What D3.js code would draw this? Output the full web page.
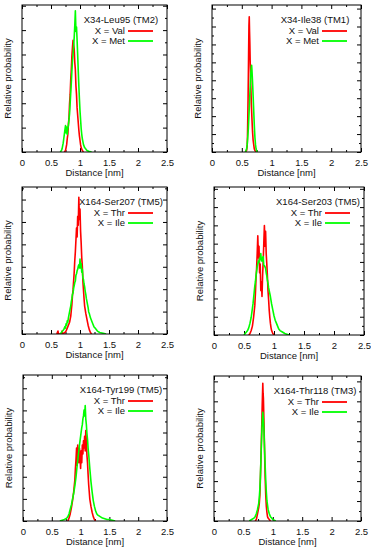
<!DOCTYPE html>
<html><head><meta charset="utf-8">
<script src="https://cdn.jsdelivr.net/npm/d3@7"></script>
<style>
body{margin:0;background:#fff}
svg{display:block}
text{font-family:"Liberation Sans",Arial,sans-serif;fill:#111}
</style>
</head><body>
<svg id="c" width="371" height="550"></svg>
<script>
// ---------- data ----------
const xTickValues = [0, 0.5, 1, 1.5, 2, 2.5];
const xTickLabels = ["0", "0.5", "1", "1.5", "2", "2.5"];
const xMinorTicks = [0.25, 0.75, 1.25, 1.75, 2.25];
const panelTitles = ["X34-Leu95 (TM2)", "X34-Ile38 (TM1)", "X164-Ser207 (TM5)", "X164-Ser203 (TM5)", "X164-Tyr199 (TM5)", "X164-Thr118 (TM3)"];
const legendRed = ["X = Val", "X = Val", "X = Thr", "X = Thr", "X = Thr", "X = Thr"];
const legendGreen = ["X = Met", "X = Met", "X = Ile", "X = Ile", "X = Ile", "X = Ile"];
const yTickIntervals = [6.03, 8.2, 6.56, 8.1, 6.6, 7.27];

const leu95Val = [[0.73,0],[0.75,0.01],[0.76,0.03],[0.77,0.05],[0.78,0.09],[0.79,0.12],[0.80,0.19],[0.81,0.23],[0.82,0.33],[0.83,0.39],[0.84,0.49],[0.85,0.56],[0.86,0.65],[0.87,0.71],[0.88,0.76],[0.89,0.73],[0.90,0.70],[0.91,0.61],[0.92,0.56],[0.93,0.45],[0.94,0.39],[0.95,0.30],[0.96,0.25],[0.97,0.20],[0.98,0.15],[0.99,0.11],[1.00,0.08],[1.01,0.05],[1.02,0.03],[1.04,0.01],[1.06,0]];
const leu95Met = [[0.66,0],[0.68,0.01],[0.69,0.02],[0.70,0.04],[0.71,0.06],[0.72,0.09],[0.73,0.12],[0.74,0.15],[0.75,0.18],[0.76,0.13],[0.77,0.17],[0.78,0.12],[0.79,0.16],[0.80,0.18],[0.81,0.22],[0.82,0.26],[0.83,0.33],[0.84,0.40],[0.85,0.47],[0.86,0.55],[0.87,0.62],[0.88,0.66],[0.89,0.72],[0.90,0.78],[0.91,0.86],[0.92,0.96],[0.93,0.82],[0.94,0.85],[0.95,0.76],[0.96,0.66],[0.97,0.55],[0.98,0.45],[0.99,0.36],[1.00,0.28],[1.01,0.22],[1.02,0.16],[1.03,0.12],[1.04,0.09],[1.05,0.07],[1.06,0.05],[1.07,0.04],[1.08,0.03],[1.09,0.025],[1.10,0.02],[1.12,0.01],[1.15,0.005],[1.20,0]];

const ile38Val = [[0.56,0],[0.58,0.01],[0.59,0.04],[0.595,0.10],[0.60,0.22],[0.605,0.35],[0.61,0.52],[0.615,0.70],[0.62,0.86],[0.625,0.92],[0.63,0.82],[0.635,0.74],[0.64,0.63],[0.645,0.55],[0.65,0.46],[0.655,0.40],[0.66,0.33],[0.67,0.23],[0.68,0.14],[0.69,0.08],[0.70,0.05],[0.71,0.02],[0.72,0.01],[0.74,0]];
const ile38Met = [[0.56,0],[0.57,0.01],[0.58,0.02],[0.59,0.05],[0.60,0.10],[0.61,0.16],[0.62,0.25],[0.63,0.34],[0.64,0.44],[0.65,0.53],[0.66,0.58],[0.665,0.59],[0.67,0.56],[0.68,0.48],[0.69,0.38],[0.70,0.28],[0.71,0.18],[0.72,0.10],[0.73,0.05],[0.74,0.02],[0.75,0.005],[0.76,0]];

const ser207Thr = [[0.60,0],[0.62,0.02],[0.63,0],[0.68,0],[0.69,0.02],[0.70,0],[0.74,0.01],[0.76,0.02],[0.78,0.04],[0.80,0.06],[0.82,0.08],[0.83,0.10],[0.84,0.12],[0.85,0.16],[0.86,0.20],[0.87,0.26],[0.88,0.30],[0.89,0.36],[0.90,0.42],[0.91,0.50],[0.92,0.56],[0.93,0.64],[0.94,0.72],[0.95,0.66],[0.96,0.80],[0.97,0.74],[0.98,0.93],[0.99,0.78],[1.00,0.85],[1.01,0.70],[1.02,0.62],[1.03,0.52],[1.04,0.46],[1.05,0.36],[1.06,0.30],[1.07,0.24],[1.08,0.19],[1.10,0.14],[1.12,0.10],[1.14,0.06],[1.16,0.03],[1.18,0.01],[1.20,0]];
const ser207Ile = [[0.66,0],[0.68,0.01],[0.70,0.02],[0.72,0.03],[0.74,0.05],[0.75,0.04],[0.76,0.07],[0.77,0.06],[0.78,0.09],[0.79,0.08],[0.80,0.11],[0.81,0.13],[0.82,0.15],[0.83,0.17],[0.84,0.19],[0.85,0.22],[0.86,0.24],[0.87,0.27],[0.88,0.28],[0.89,0.31],[0.90,0.33],[0.91,0.35],[0.92,0.36],[0.93,0.40],[0.94,0.41],[0.95,0.43],[0.96,0.44],[0.97,0.46],[0.98,0.47],[0.99,0.45],[1.00,0.51],[1.01,0.45],[1.02,0.48],[1.03,0.42],[1.04,0.44],[1.05,0.38],[1.06,0.37],[1.07,0.34],[1.08,0.32],[1.09,0.29],[1.10,0.27],[1.11,0.24],[1.12,0.22],[1.13,0.20],[1.14,0.18],[1.15,0.15],[1.16,0.14],[1.18,0.11],[1.20,0.09],[1.22,0.07],[1.24,0.05],[1.26,0.04],[1.28,0.03],[1.30,0.02],[1.34,0.01],[1.40,0.005],[1.45,0]];

const ser203Thr = [[0.58,0],[0.60,0.01],[0.62,0.03],[0.64,0.06],[0.66,0.12],[0.67,0.16],[0.68,0.20],[0.69,0.28],[0.70,0.38],[0.71,0.45],[0.72,0.55],[0.73,0.67],[0.74,0.52],[0.75,0.60],[0.76,0.42],[0.77,0.48],[0.78,0.30],[0.79,0.36],[0.80,0.26],[0.81,0.40],[0.82,0.50],[0.83,0.62],[0.84,0.74],[0.85,0.60],[0.86,0.70],[0.87,0.55],[0.88,0.48],[0.89,0.40],[0.90,0.30],[0.91,0.24],[0.92,0.17],[0.93,0.12],[0.94,0.08],[0.95,0.05],[0.96,0.03],[0.98,0.01],[1.00,0]];
const ser203Ile = [[0.50,0],[0.52,0.01],[0.54,0.02],[0.56,0.03],[0.58,0.05],[0.60,0.08],[0.62,0.12],[0.64,0.18],[0.65,0.21],[0.66,0.25],[0.67,0.29],[0.68,0.33],[0.69,0.36],[0.70,0.40],[0.71,0.43],[0.72,0.46],[0.73,0.48],[0.74,0.50],[0.75,0.49],[0.76,0.52],[0.77,0.51],[0.78,0.55],[0.79,0.50],[0.80,0.50],[0.81,0.52],[0.82,0.53],[0.83,0.47],[0.84,0.47],[0.85,0.46],[0.86,0.45],[0.87,0.42],[0.88,0.40],[0.89,0.37],[0.90,0.35],[0.91,0.32],[0.92,0.30],[0.94,0.26],[0.96,0.21],[0.98,0.17],[1.00,0.13],[1.02,0.10],[1.04,0.08],[1.06,0.06],[1.08,0.04],[1.10,0.03],[1.14,0.02],[1.18,0.01],[1.25,0]];

const tyr199Thr = [[0.78,0],[0.80,0.02],[0.82,0.05],[0.84,0.09],[0.86,0.14],[0.88,0.20],[0.90,0.28],[0.91,0.36],[0.92,0.42],[0.93,0.50],[0.94,0.38],[0.95,0.52],[0.96,0.45],[0.97,0.40],[0.98,0.50],[0.99,0.44],[1.00,0.36],[1.01,0.48],[1.02,0.40],[1.03,0.52],[1.04,0.46],[1.05,0.55],[1.06,0.50],[1.07,0.58],[1.08,0.48],[1.09,0.62],[1.10,0.55],[1.11,0.45],[1.12,0.40],[1.13,0.32],[1.14,0.25],[1.15,0.20],[1.16,0.15],[1.18,0.10],[1.20,0.06],[1.22,0.03],[1.24,0.01],[1.26,0]];
const tyr199Ile = [[0.64,0],[0.68,0.005],[0.72,0.01],[0.76,0.02],[0.78,0.03],[0.80,0.05],[0.82,0.08],[0.84,0.11],[0.86,0.15],[0.88,0.19],[0.90,0.24],[0.92,0.30],[0.94,0.38],[0.96,0.45],[0.98,0.52],[1.00,0.58],[1.01,0.61],[1.02,0.64],[1.03,0.66],[1.04,0.70],[1.05,0.72],[1.06,0.76],[1.07,0.72],[1.08,0.79],[1.09,0.70],[1.10,0.66],[1.11,0.60],[1.12,0.56],[1.13,0.50],[1.14,0.46],[1.16,0.36],[1.18,0.27],[1.20,0.20],[1.22,0.14],[1.24,0.10],[1.26,0.07],[1.28,0.05],[1.30,0.04],[1.34,0.03],[1.38,0.02],[1.42,0.015],[1.46,0.01],[1.50,0.01],[1.55,0.005],[1.60,0]];

const thr118Thr = [[0.70,0],[0.72,0.01],[0.73,0.03],[0.74,0.05],[0.75,0.07],[0.76,0.09],[0.77,0.12],[0.78,0.18],[0.79,0.30],[0.80,0.45],[0.81,0.62],[0.82,0.80],[0.83,0.95],[0.835,0.88],[0.84,0.85],[0.85,0.68],[0.86,0.48],[0.87,0.30],[0.88,0.18],[0.89,0.10],[0.90,0.06],[0.91,0.03],[0.92,0.02],[0.94,0.01],[0.96,0]];
const thr118Ile = [[0.60,0],[0.64,0.01],[0.68,0.02],[0.70,0.03],[0.72,0.05],[0.74,0.08],[0.76,0.12],[0.77,0.16],[0.78,0.22],[0.79,0.32],[0.80,0.45],[0.81,0.58],[0.82,0.68],[0.83,0.75],[0.84,0.70],[0.85,0.62],[0.86,0.50],[0.87,0.38],[0.88,0.28],[0.89,0.20],[0.90,0.14],[0.92,0.08],[0.94,0.05],[0.96,0.03],[0.98,0.02],[1.00,0.01],[1.05,0]];

const redSeries = [leu95Val, ile38Val, ser207Thr, ser203Thr, tyr199Thr, thr118Thr];
const greenSeries = [leu95Met, ile38Met, ser207Ile, ser203Ile, tyr199Ile, thr118Ile];

// ---------- layout ----------
const frames = [
  {l:22, r:167, t:5, b:152},
  {l:212, r:361, t:5, b:152},
  {l:22, r:167, t:187, b:334},
  {l:214, r:364, t:187, b:335},
  {l:23, r:167, t:375, b:521},
  {l:214, r:361, t:376, b:521}
];
const RED = "#ff0000", GREEN = "#00ff00";

const svg = d3.select("#c");

frames.forEach((f, i) => {
  const g = svg.append("g");
  const x = d3.scaleLinear().domain([0, 2.5]).range([f.l, f.r]);
  const y = d3.scaleLinear().domain([0, 1]).range([f.b, f.t]);

  const n = yTickIntervals[i];
  const yMajor = d3.range(0, Math.floor(n) + 1).map(k => k / n).filter(v => v <= 1);
  const yMinor = d3.range(0, Math.floor(n) + 1).map(k => (k + 0.5) / n).filter(v => v < 1);

  const strip = sel => { sel.select(".domain").remove(); sel.selectAll(".tick line").attr("stroke", "#000"); };

  // bottom
  g.append("g").attr("transform", `translate(0,${f.b})`)
    .call(d3.axisBottom(x).tickValues(xTickValues).tickFormat((d, k) => xTickLabels[k]).tickSize(-4).tickPadding(7))
    .call(strip)
    .call(s => s.selectAll("text").attr("font-size", 9.5).attr("font-family", '"Liberation Sans",Arial,sans-serif').attr("fill", "#111"));
  g.append("g").attr("transform", `translate(0,${f.b})`)
    .call(d3.axisBottom(x).tickValues(xMinorTicks).tickFormat("").tickSize(-2)).call(strip);
  // top
  g.append("g").attr("transform", `translate(0,${f.t})`)
    .call(d3.axisTop(x).tickValues(xTickValues).tickFormat("").tickSize(-4)).call(strip);
  g.append("g").attr("transform", `translate(0,${f.t})`)
    .call(d3.axisTop(x).tickValues(xMinorTicks).tickFormat("").tickSize(-2)).call(strip);
  // left / right
  g.append("g").attr("transform", `translate(${f.l},0)`)
    .call(d3.axisLeft(y).tickValues(yMajor).tickFormat("").tickSize(-4)).call(strip);
  g.append("g").attr("transform", `translate(${f.l},0)`)
    .call(d3.axisLeft(y).tickValues(yMinor).tickFormat("").tickSize(-2)).call(strip);
  g.append("g").attr("transform", `translate(${f.r},0)`)
    .call(d3.axisRight(y).tickValues(yMajor).tickFormat("").tickSize(-4)).call(strip);
  g.append("g").attr("transform", `translate(${f.r},0)`)
    .call(d3.axisRight(y).tickValues(yMinor).tickFormat("").tickSize(-2)).call(strip);

  // clip
  const cid = "clip" + i;
  svg.append("clipPath").attr("id", cid).append("rect")
    .attr("x", f.l).attr("y", f.t).attr("width", f.r - f.l).attr("height", f.b - f.t);

  const line = d3.line().x(d => x(d[0])).y(d => y(d[1]));
  const cg = g.append("g").attr("clip-path", `url(#${cid})`);
  cg.append("path").datum(redSeries[i]).attr("d", line)
    .attr("fill", "none").attr("stroke", RED).attr("stroke-width", 1.6).attr("stroke-linejoin", "round");
  cg.append("path").datum(greenSeries[i]).attr("d", line)
    .attr("fill", "none").attr("stroke", GREEN).attr("stroke-width", 1.6).attr("stroke-linejoin", "round");

  // frame
  g.append("rect").attr("x", f.l).attr("y", f.t).attr("width", f.r - f.l).attr("height", f.b - f.t)
    .attr("fill", "none").attr("stroke", "#000").attr("stroke-width", 1);

  // labels
  g.append("text").attr("x", (f.l + f.r) / 2).attr("y", f.b + 21).attr("dy", "0.35em")
    .attr("text-anchor", "middle").attr("font-size", 9.5).text("Distance [nm]");
  g.append("text").attr("transform", `translate(${f.l - 14},${(f.t + f.b) / 2}) rotate(-90)`)
    .attr("dy", "0.35em").attr("text-anchor", "middle").attr("font-size", 9.5).text("Relative probability");

  // legend
  g.append("text").attr("x", f.r - 46).attr("y", f.t + 15).attr("dy", "0.35em")
    .attr("text-anchor", "middle").attr("font-size", 9.5).text(panelTitles[i]);
  [[legendRed[i], RED, 26], [legendGreen[i], GREEN, 36]].forEach(([lab, col, dy]) => {
    g.append("text").attr("x", f.r - 42).attr("y", f.t + dy).attr("dy", "0.35em")
      .attr("text-anchor", "end").attr("font-size", 9.5).text(lab);
    g.append("line").attr("x1", f.r - 39).attr("x2", f.r - 14)
      .attr("y1", f.t + dy).attr("y2", f.t + dy).attr("stroke", col).attr("stroke-width", 1.8);
  });
});
</script>
</body></html>
